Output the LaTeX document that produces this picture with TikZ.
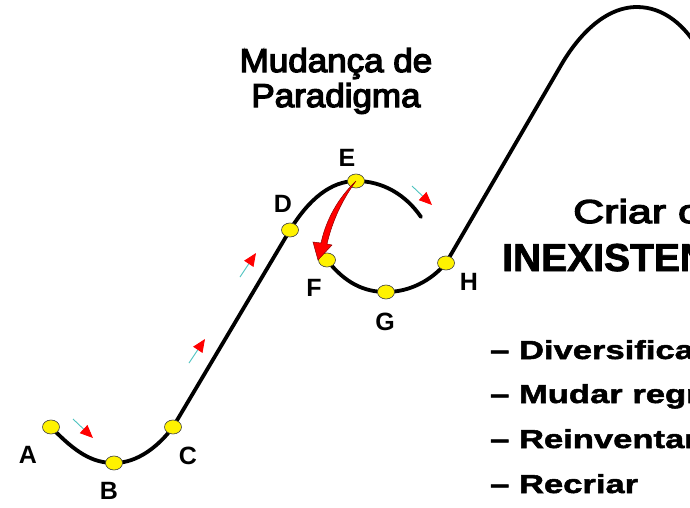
\documentclass[tikz,border=0pt]{standalone}
\usepackage{fontspec}
\setmainfont{Liberation Sans}
\newfontfamily\titlefont[FakeStretch=1.06,FakeBold=4]{Liberation Sans}
\newfontfamily\criarfont[FakeStretch=1.3,FakeBold=4]{Liberation Sans}
\newfontfamily\bigboldfont[FakeBold=2]{Liberation Sans Bold}
\newfontfamily\bulletfont[FakeStretch=1.33,FakeBold=2]{Liberation Sans Bold}
\usetikzlibrary{arrows.meta,shapes.geometric}
\tikzset{
  dot/.style={ellipse, draw=black!75, fill=yellow, minimum width=17pt, minimum height=14pt, inner sep=0pt, line width=0.6pt},
  curve/.style={line width=3.8pt, line cap=round, line join=round},
  lbl/.style={font=\fontsize{25}{25}\selectfont\bfseries, inner sep=0pt},
  flow/.style={draw=cyan!60!green!70, line width=0.9pt, -{Triangle[color=red,length=13pt,width=11pt]}},
  title/.style={font=\titlefont\fontsize{33}{33}\selectfont, inner sep=0pt, anchor=base},
  rtext/.style={inner sep=0pt, anchor=base west},
  bullet/.style={rtext, font=\bulletfont\fontsize{26}{26}\selectfont},
}
\begin{document}
\begin{tikzpicture}[x=1pt,y=-1pt]
\useasboundingbox (0,0) rectangle (690,507);
\fill[white] (0,0) rectangle (690,507);
% anchor points
\coordinate (pA) at (51,427);
\coordinate (pB) at (114,463);
\coordinate (pC) at (173,427);
\coordinate (pD) at (290,230);
\coordinate (pE) at (356,181);
\coordinate (pEnd) at (421,217);
\coordinate (pF) at (327,260);
\coordinate (pG) at (386,292);
\coordinate (pH) at (446,263);
\coordinate (pJ) at (560,67);
\coordinate (pK) at (637,7);
\coordinate (pL) at (700,52);
% curves
\draw[curve] (pA) .. controls (75,452) and (92,463) .. (pB)
  .. controls (137,463) and (158,447) .. (pC) -- (pD)
  .. controls (309,199) and (331,181) .. (pE)
  .. controls (383,181) and (406,195) .. (pEnd);
\begin{scope}
\clip (0,0) rectangle (690,507);
\draw[curve] (pF) .. controls (345,283) and (364,292) .. (pG)
  .. controls (409,292) and (431,281) .. (pH) -- (pJ)
  .. controls (577,37) and (604,7) .. (pK)
  .. controls (664,7) and (686,26) .. (pL);
\end{scope}
% dots
\foreach \n in {A,B,C,D,E,F,G,H} {\node[dot] (\n) at (p\n) {};}
% big red arrow E -> F
\filldraw[fill=red, draw=red!55!black, line width=0.5pt]
  (E.center) .. controls (338,198) and (326,220) .. (321,243)
  -- (313,242) -- (318,260) -- (332,245) -- (327,244)
  .. controls (332,222) and (342,200) .. (E.center) -- cycle;
% small flow arrows
\coordinate (t1) at (73,419); \coordinate (h1) at (93,438);
\coordinate (t2) at (189,363); \coordinate (h2) at (205,339);
\coordinate (t3) at (240,277); \coordinate (h3) at (256,253);
\coordinate (t4) at (412,186); \coordinate (h4) at (432,205);
\draw[flow] (t1) -- (h1);
\draw[flow] (t2) -- (h2);
\draw[flow] (t3) -- (h3);
\draw[flow] (t4) -- (h4);
% point labels
\node[lbl] (lA) at (28,455) {A};
\node[lbl] (lB) at (109,491) {B};
\node[lbl] (lC) at (188,456) {C};
\node[lbl] (lD) at (283,204) {D};
\node[lbl] (lE) at (347,158) {E};
\node[lbl] (lF) at (314,288) {F};
\node[lbl] (lG) at (385,322) {G};
\node[lbl] (lH) at (469,282) {H};
% titles
\node[title] (m1) at (336,72) {Mudança de};
\node[title] (m2) at (336,107) {Paradigma};
\begin{scope}
\clip (0,0) rectangle (690,507);
\node[rtext, font=\criarfont\fontsize{33}{33}\selectfont] (c1) at (573,223) {Criar o};
\node[rtext, font=\bigboldfont\fontsize{39}{39}\selectfont] (c2) at (502,271) {INEXISTENTE};
\node[bullet] (b1) at (490,359) {– Diversificar};
\node[bullet] (b2) at (490,403) {– Mudar regras};
\node[bullet] (b3) at (490,448) {– Reinventar};
\node[bullet] (b4) at (490,493) {– Recriar};
\end{scope}
\end{tikzpicture}
\end{document}
